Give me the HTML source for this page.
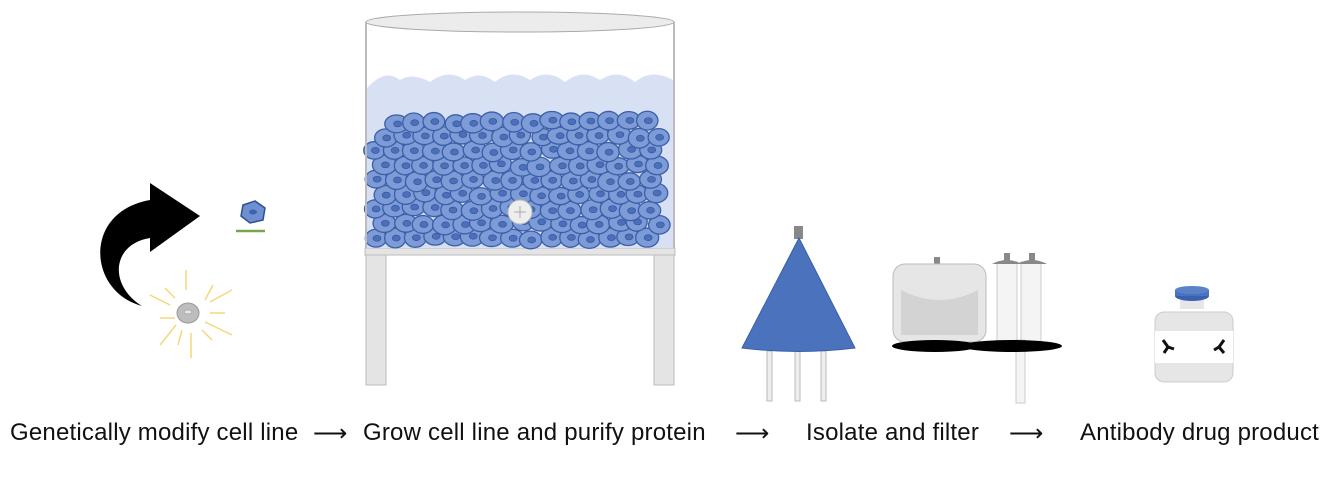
<!DOCTYPE html>
<html><head><meta charset="utf-8"><style>
body{margin:0;background:#fff;width:1338px;height:486px;overflow:hidden;font-family:"Liberation Sans",sans-serif}
svg{position:absolute;left:0;top:0}
.t{position:absolute;top:419px;font-size:24px;letter-spacing:0.2px;color:#111;white-space:nowrap}
</style></head><body>
<svg width="1338" height="486" viewBox="0 0 1338 486">
<!-- tank -->
<rect x="365" y="248" width="310" height="7" fill="#e4e4e4" stroke="#bbb"/>
<rect x="366" y="255" width="20" height="130" fill="#e4e4e4" stroke="#bbb"/>
<rect x="654" y="255" width="20" height="130" fill="#e4e4e4" stroke="#bbb"/>
<path d="M367 88 Q385 68 400 80 Q412 72 430 82 Q448 68 465 80 Q480 70 495 82 Q512 68 530 80 Q548 68 565 82 Q582 68 600 80 Q618 68 635 82 Q652 68 673 80 L673 248 L367 248Z" fill="#d8e0f3"/>
<g id="cells"></g>
<circle cx="520" cy="212" r="12" fill="#eee" stroke="#bbb"/>
<path d="M520 206v12M514 212h12" stroke="#aaa" stroke-width="1"/>
<line x1="366" y1="22" x2="366" y2="248" stroke="#bbb" stroke-width="2"/>
<line x1="674" y1="22" x2="674" y2="248" stroke="#bbb" stroke-width="2"/>
<ellipse cx="520" cy="22" rx="154" ry="10" fill="#ececec" stroke="#aaa"/>
<!-- curved arrow -->
<path d="M150 200 L150 183 L200 216 L150 252 L150 238 C112 244 108 285 142 306 C88 292 82 212 150 200Z" fill="#000"/>
<!-- small cell -->
<path d="M243 205 L255 201 L265 208 L263 220 L250 223 L241 216Z" fill="#6f8fd0" stroke="#2c4f9a" stroke-width="1.5"/>
<ellipse cx="253" cy="212" rx="4" ry="2.5" fill="#3d63b0"/>
<line x1="236" y1="231" x2="265" y2="231" stroke="#7aa64a" stroke-width="2.5"/>
<!-- glowing cell -->
<g stroke="#f5d77a" stroke-width="1.5">
<line x1="186" y1="270" x2="186" y2="290"/><line x1="213" y1="285" x2="205" y2="300"/><line x1="232" y1="290" x2="210" y2="302"/>
<line x1="150" y1="295" x2="170" y2="305"/><line x1="165" y1="288" x2="175" y2="298"/><line x1="160" y1="318" x2="175" y2="318"/>
<line x1="210" y1="313" x2="225" y2="313"/><line x1="205" y1="322" x2="232" y2="335"/><line x1="202" y1="330" x2="212" y2="340"/>
<line x1="176" y1="325" x2="160" y2="345"/><line x1="182" y1="330" x2="178" y2="345"/><line x1="191" y1="333" x2="191" y2="358"/>
</g>
<ellipse cx="188" cy="313" rx="11" ry="10" fill="#bdbdbd" stroke="#999"/>
<ellipse cx="188" cy="312" rx="4" ry="2" fill="#e5e5e5" stroke="#999" stroke-width=".6"/>
<!-- cone -->
<rect x="767" y="351" width="5" height="50" fill="#eee" stroke="#bbb"/>
<rect x="795" y="348" width="5" height="53" fill="#eee" stroke="#bbb"/>
<rect x="821" y="351" width="5" height="50" fill="#eee" stroke="#bbb"/>
<rect x="794" y="226" width="9" height="13" fill="#888"/>
<path d="M799 238 L742 348 Q798 355 855 348Z" fill="#4a72bd" stroke="#3a5fa8"/>
<!-- filter box -->
<rect x="934" y="257" width="6" height="8" fill="#888"/>
<rect x="893" y="264" width="93" height="78" rx="12" fill="#e6e6e6" stroke="#bbb"/>
<path d="M901 290 Q940 310 978 290 L978 335 L901 335Z" fill="#d3d3d3"/>
<rect x="997" y="262" width="20" height="82" fill="#f4f4f4" stroke="#ccc"/>
<rect x="1021" y="262" width="20" height="82" fill="#f4f4f4" stroke="#ccc"/>
<rect x="1016" y="340" width="9" height="63" fill="#f4f4f4" stroke="#ccc"/>
<rect x="1004" y="253" width="6" height="8" fill="#888"/><path d="M992 264 Q1007 256 1022 264Z" fill="#888"/>
<rect x="1029" y="253" width="6" height="8" fill="#888"/><path d="M1017 264 Q1032 256 1047 264Z" fill="#888"/>
<ellipse cx="935" cy="346" rx="43" ry="6" fill="#000"/>
<ellipse cx="1012" cy="346" rx="50" ry="6" fill="#000"/>
<!-- vial -->
<rect x="1180" y="295" width="24" height="14" fill="#e6e6e6"/>
<rect x="1155" y="312" width="78" height="70" rx="9" fill="#e6e6e6" stroke="#ccc"/>
<rect x="1155" y="331" width="78" height="32" fill="#fff"/>
<ellipse cx="1192" cy="296" rx="17" ry="5" fill="#3a60b0"/>
<rect x="1175" y="290" width="34" height="6" fill="#4a72bd"/>
<ellipse cx="1192" cy="290" rx="17" ry="4" fill="#5b82c8"/>
<g stroke="#111" stroke-width="3" fill="none">
<path d="M1163 340 L1168 347 L1174 349 M1168 347 L1164 353"/>
<path d="M1224 340 L1219 347 L1214 350 M1219 347 L1224 353"/>
</g>
</svg>
<div class="t" style="left:10px">Genetically modify cell line</div>
<div class="t" style="left:313px">⟶</div>
<div class="t" style="left:363px">Grow cell line and purify protein</div>
<div class="t" style="left:735px">⟶</div>
<div class="t" style="left:806px">Isolate and filter</div>
<div class="t" style="left:1009px">⟶</div>
<div class="t" style="left:1080px">Antibody drug product</div>
<script>
(function(){
var g=document.getElementById('cells'),s='',seed=7;
function r(){seed=(seed*9301+49297)%233280;return seed/233280;}
for(var row=0;row<9;row++){
 var y=238-row*14.5;
 for(var i=0;i<16;i++){
  var x=376+i*19.5+(row%2?9:0)+(r()-.5)*4;
  if(x>666)continue;
  var yy=y+(r()-.5)*4;
  if(row==8&&(x<385||(x>420&&x<430)||x>540&&x<560)&&r()<.6)continue;
  var rx=10.5+r()*1.5,ry=8.5+r()*1.5;
  s+='<ellipse cx="'+x+'" cy="'+yy+'" rx="'+rx+'" ry="'+ry+'" fill="#7d9bd6" stroke="#3a5fa8" stroke-width="1.3"/>';
  s+='<ellipse cx="'+(x+1)+'" cy="'+yy+'" rx="4" ry="3" fill="#4c6fba" stroke="#2f519a" stroke-width=".6"/>';
 }
}
g.innerHTML=s;
})();
</script>
</body></html>
